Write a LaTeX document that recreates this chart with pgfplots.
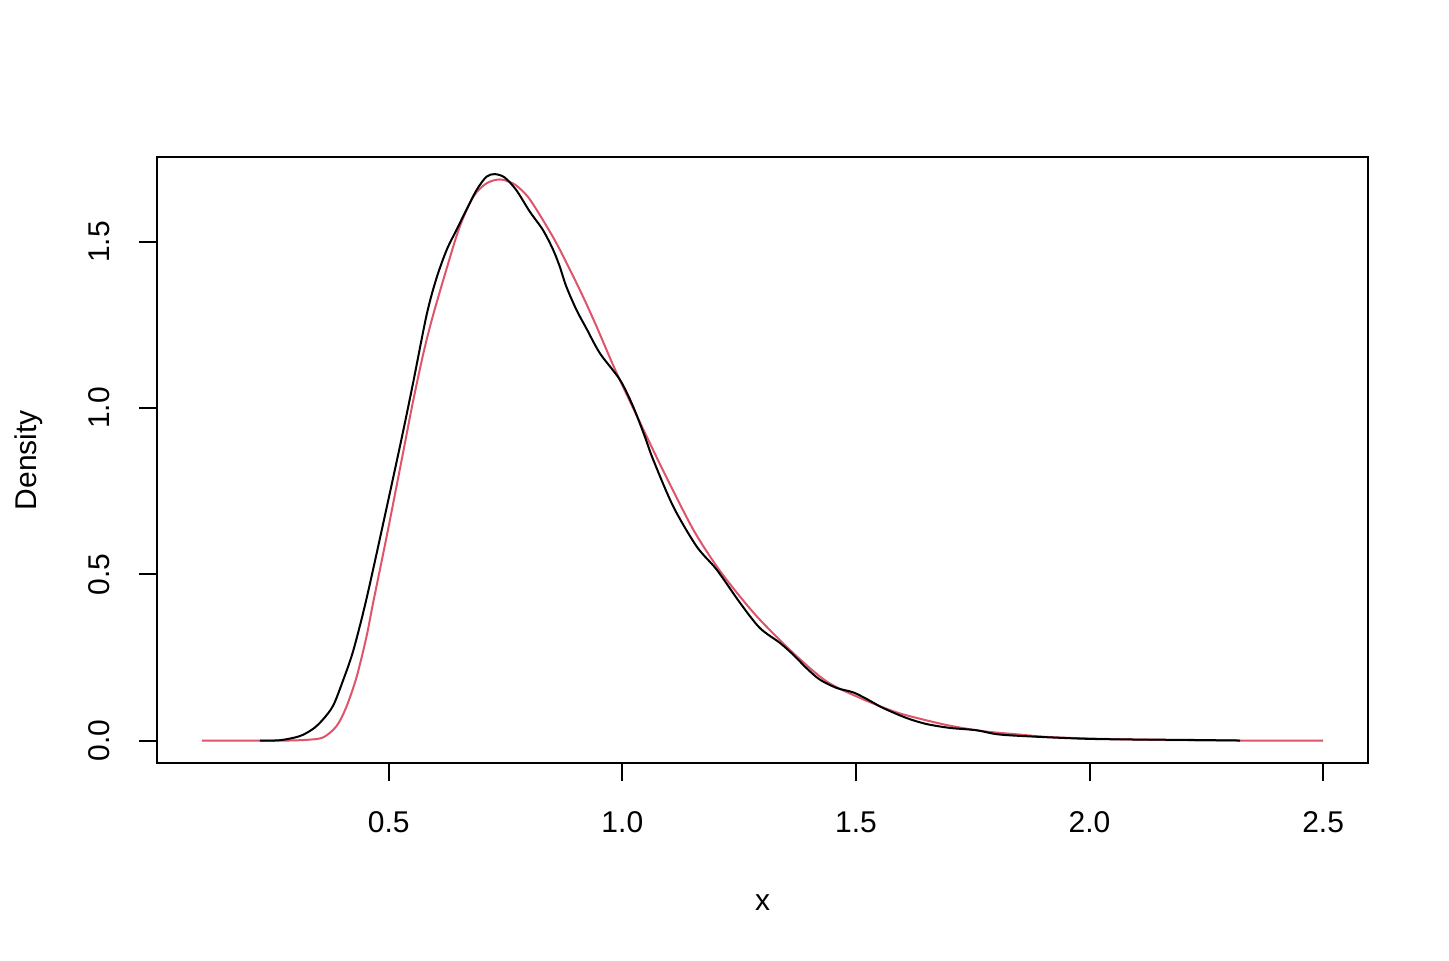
\documentclass[border=0pt]{standalone}
\usepackage{fontspec}
\setmainfont{Liberation Sans}
\usepackage{pgfplots}
\pgfplotsset{compat=1.18}
\definecolor{rred}{HTML}{DF536B}
\begin{document}
\begin{tikzpicture}
\begin{axis}[
  scale only axis, width=605.5pt, height=303pt,
  at={(0,0)}, anchor=south west,
  xmin=0.004, xmax=2.596, ymin=-0.0676, ymax=1.7555,
  axis line style={line width=1pt, black},
  tick align=outside, major tick length=9pt,
  tick style={line width=1pt, black},
  xtick pos=left, ytick pos=left,
  xtick={0.5,1,1.5,2,2.5}, xticklabels={0.5,1.0,1.5,2.0,2.5},
  ytick={0,0.5,1,1.5}, yticklabels={0.0,0.5,1.0,1.5},
  minor tick num=0,
  ticklabel style={font=\fontsize{15}{18}\selectfont, inner sep=0pt},
  xticklabel style={anchor=north},
  yticklabel style={rotate=90, anchor=south},
  xticklabel shift=15.3pt,
  yticklabel shift=14.5pt,
  xlabel={x}, ylabel={Density},
  label style={font=\fontsize{15}{18}\selectfont, inner sep=0pt},
  xlabel style={at={(axis description cs:0.5,-0.2426)}, anchor=base},
  ylabel style={at={(axis description cs:-0.0991,0.5)}, anchor=base, rotate=0},
  clip=true,
]
\addplot[rred, line width=1pt, smooth] coordinates {
(0.10,0) (0.20,0) (0.28,0) (0.31,0.001) (0.324,0.002) (0.359,0.009) (0.388,0.043)
(0.409,0.10) (0.431,0.19) (0.452,0.31) (0.466,0.41) (0.495,0.61) (0.516,0.76)
(0.534,0.89) (0.552,1.02) (0.575,1.17) (0.595,1.28) (0.624,1.42) (0.652,1.546)
(0.681,1.636) (0.709,1.676) (0.738,1.688) (0.766,1.676) (0.785,1.655) (0.802,1.628)
(0.830,1.566) (0.859,1.496) (0.888,1.416) (0.916,1.335) (0.945,1.245) (0.988,1.105)
(1.052,0.915) (1.095,0.79) (1.152,0.634)
(1.202,0.524) (1.245,0.445) (1.294,0.364) (1.366,0.263) (1.437,0.178) (1.509,0.128)
(1.580,0.088) (1.630,0.068) (1.70,0.045) (1.773,0.028) (1.85,0.018) (1.908,0.011)
(2.0,0.006) (2.1,0.003) (2.2,0.001) (2.35,0.0) (2.5,0)
};
\addplot[black, line width=1pt, smooth] coordinates {
(0.224,0) (0.267,0.001) (0.309,0.013) (0.338,0.035) (0.359,0.063) (0.381,0.105)
(0.402,0.18) (0.424,0.27) (0.452,0.424) (0.49,0.665) (0.527,0.905) (0.552,1.075)
(0.581,1.28) (0.602,1.39) (0.624,1.476) (0.645,1.536) (0.666,1.596) (0.688,1.656)
(0.709,1.696) (0.727,1.704) (0.748,1.694) (0.773,1.656) (0.802,1.591) (0.830,1.536)
(0.852,1.476) (0.866,1.426) (0.880,1.366) (0.902,1.295) (0.923,1.24) (0.952,1.165)
(0.995,1.085) (1.023,1.005) (1.048,0.915) (1.066,0.845) (1.109,0.704) (1.159,0.584)
(1.202,0.514) (1.252,0.414) (1.294,0.339) (1.337,0.294) (1.366,0.258) (1.394,0.218)
(1.423,0.183) (1.459,0.158) (1.494,0.145) (1.523,0.125) (1.558,0.098) (1.608,0.068)
(1.650,0.05) (1.701,0.038) (1.758,0.031) (1.808,0.018) (1.908,0.010) (2.0,0.005)
(2.1,0.003) (2.2,0.002) (2.322,0.0)
};
\end{axis}
\pgfresetboundingbox
\path (-78.5pt,-98.5pt) rectangle (646pt,381.5pt);
\end{tikzpicture}
\end{document}
